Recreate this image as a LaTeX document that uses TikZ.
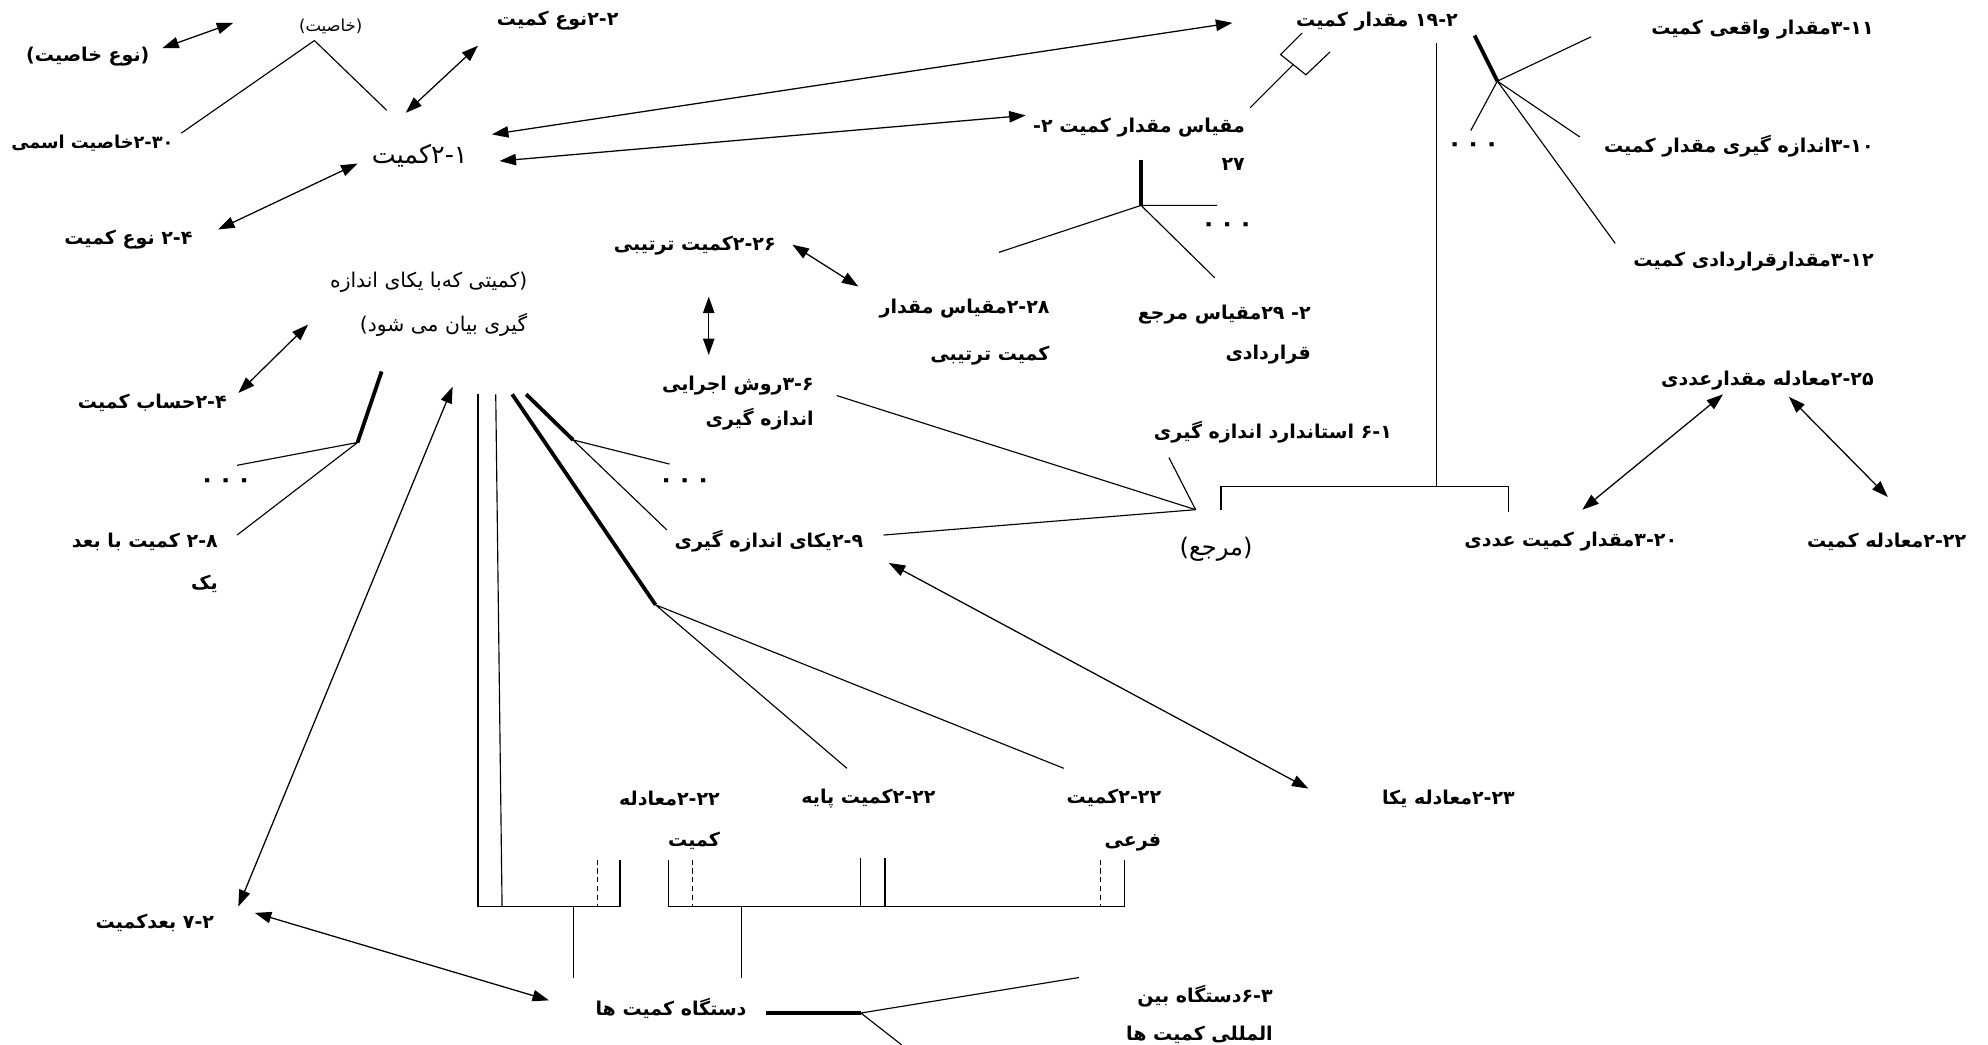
\documentclass[tikz,border=0pt]{standalone}
\usepackage{fontspec}
\usetikzlibrary{arrows.meta}
\usetikzlibrary{positioning}

\TeXXeTstate=1
\newfontfamily\fafont[Script=Arabic]{DejaVu Sans}
\newcommand{\rl}[1]{\beginR#1\endR}

\tikzset{
  lbl/.style={font=\fafont\bfseries\fontsize{15}{#1}\selectfont, anchor=east, align=right, inner sep=0pt},
  lbl/.default=18,
  reg/.style={font=\fafont\fontsize{16}{#1}\selectfont, anchor=east, align=right, inner sep=0pt},
  reg/.default=18,
  dts/.style={font=\fafont\bfseries\fontsize{19}{20}\selectfont, inner sep=0pt},
  ln/.style={line width=0.9pt},
  thk/.style={line width=3pt},
  dsh/.style={line width=0.9pt, dash pattern=on 4pt off 3pt},
  dbl/.style={line width=1pt, {Triangle[length=13pt,width=9pt]}-{Triangle[length=13pt,width=9pt]}},
}

\begin{document}
\begin{tikzpicture}[x=1pt,y=-1pt]
\useasboundingbox (0,0) rectangle (1568,824);

% labels
\node[lbl] (n_kh) at (118,45) {\rl{(نوع خاصیت)}};
\node[reg, font=\fafont\fontsize{13}{14}\selectfont] (kh) at (286,21) {\rl{(خاصیت)}};
\node[lbl] (nk_2) at (488,16) {\rl{۲-۲نوع کمیت}};
\node[lbl, font=\fafont\bfseries\fontsize{14}{18}\selectfont] (kh_30) at (137,113) {\rl{۲-۳۰خاصیت اسمی}};
\node[reg, font=\fafont\fontsize{20}{22}\selectfont] (k_1) at (369,123) {\rl{۲-۱کمیت}};
\node[lbl] (nk_4) at (152,189) {\rl{۲-۴ نوع کمیت}};
\node[reg=35] (kyb) at (416,240) {\rl{(کمیتی که‌با یکای اندازه}\\ \rl{گیری بیان می شود)}};
\node[lbl] (hs_4) at (179,318) {\rl{۲-۴حساب کمیت}};
\node[lbl=33] (bd_8) at (172,444) {\rl{۲-۸ کمیت با بعد}\\ \rl{یک}};
\node[lbl] (bd_7) at (169,728) {\rl{۷-۲ بعدکمیت}};
\node[lbl] (tr_26) at (612,194) {\rl{۲-۲۶کمیت ترتیبی}};
\node[lbl=28] (rv_6) at (642,318) {\rl{۳-۶روش اجرایی}\\ \rl{اندازه گیری}};
\node[lbl] (yk_9) at (681,427) {\rl{۲-۹یکای اندازه گیری}};
\node[lbl=37] (mm_28) at (828,262) {\rl{۲-۲۸مقیاس مقدار}\\ \rl{کمیت ترتیبی}};
\node[lbl=31] (mr_29) at (1034,264) {\rl{۲- ۲۹مقیاس مرجع}\\ \rl{قراردادی}};
\node[lbl=30] (mk_27) at (982,114) {\rl{مقیاس مقدار کمیت ۲-}\\ \rl{۲۷}};
\node[lbl] (mq_19) at (1150,17) {\rl{۱۹-۲ مقدار کمیت}};
\node[lbl] (vq_11) at (1478,23) {\rl{۳-۱۱مقدار واقعی کمیت}};
\node[lbl] (mq_10) at (1478,115) {\rl{۳-۱۰اندازه گیری مقدار کمیت}};
\node[lbl] (qr_12) at (1478,206) {\rl{۳-۱۲مقدارقراردادی کمیت}};
\node[lbl] (ma_25) at (1478,300) {\rl{۲-۲۵معادله مقدارعددی}};
\node[lbl] (st_1) at (1098,341) {\rl{۶-۱ استاندارد اندازه گیری}};
\node[reg, font=\fafont\fontsize{19}{20}\selectfont] (mrj) at (988,433) {\rl{(مرجع)}};
\node[lbl] (ad_20) at (1323,427) {\rl{۳-۲۰مقدار کمیت عددی}};
\node[lbl] (mk_22) at (1551,427) {\rl{۲-۲۲معادله کمیت}};
\node[lbl] (my_23) at (1195,630) {\rl{۲-۲۳معادله یکا}};
\node[lbl=33] (mo_22) at (568,647) {\rl{۲-۲۲معادله}\\ \rl{کمیت}};
\node[lbl] (kp_22) at (738,630) {\rl{۲-۲۲کمیت پایه}};
\node[lbl=34] (kf_22) at (916,647) {\rl{۲-۲۲کمیت}\\ \rl{فرعی}};
\node[lbl] (dk) at (589,795) {\rl{دستگاه کمیت ها}};
\node[lbl=30] (isq) at (1004,800) {\rl{۶-۳دستگاه بین}\\ \rl{المللی کمیت ها}};

\node[dts] (dots_1) at (178,381) {۰\hspace{3pt}۰\hspace{3pt}۰};
\node[dts] (dots_2) at (540,381) {۰\hspace{3pt}۰\hspace{3pt}۰};
\node[dts] (dots_3) at (968,179) {۰\hspace{3pt}۰\hspace{3pt}۰};
\node[dts] (dots_4) at (1162,116) {۰\hspace{3pt}۰\hspace{3pt}۰};

% arrow ends
\coordinate (a1_s) at (128,38);  \coordinate (a1_e) at (184,18);
\coordinate (a2_s) at (320,89);  \coordinate (a2_e) at (377,36);
\coordinate (a3_s) at (388,106); \coordinate (a3_e) at (972,18);
\coordinate (a4_s) at (394,127); \coordinate (a4_e) at (809,91);
\coordinate (a5_s) at (172,181); \coordinate (a5_e) at (282,129);
\coordinate (a6_s) at (188,310); \coordinate (a6_e) at (243,256);
\coordinate (a7_s) at (188,715); \coordinate (a7_e) at (357,305);
\coordinate (a8_s) at (201,720); \coordinate (a8_e) at (433,789);
\coordinate (a9_s) at (625,193); \coordinate (a9_e) at (677,226);
\coordinate (a10_s) at (559,234); \coordinate (a10_e) at (559,280);
\coordinate (a11_s) at (701,444); \coordinate (a11_e) at (1032,622);
\coordinate (a12_s) at (1248,402); \coordinate (a12_e) at (1359,311);
\coordinate (a13_s) at (1411,313); \coordinate (a13_e) at (1489,392);

\path[dbl]
    (a1_s) edge (a1_e)
    (a2_s) edge (a2_e)
    (a3_s) edge (a3_e)
    (a4_s) edge (a4_e)
    (a5_s) edge (a5_e)
    (a6_s) edge (a6_e)
    (a7_s) edge (a7_e)
    (a8_s) edge (a8_e)
    (a9_s) edge (a9_e)
    (a10_s) edge (a10_e)
    (a11_s) edge (a11_e)
    (a12_s) edge (a12_e)
    (a13_s) edge (a13_e);

% caret under (khasiat)
\coordinate (c_l) at (143,105); \coordinate (c_t) at (248,32); \coordinate (c_r) at (305,87);
\draw[ln] (c_l) -- (c_t) -- (c_r);

% fork left
\coordinate (f1_t) at (301,293); \coordinate (f1_j) at (282,349);
\coordinate (f1_a) at (187,367); \coordinate (f1_b) at (187,422);
\draw[thk] (f1_t) -- (f1_j);
\draw[ln] (f1_a) -- (f1_j) -- (f1_b);

% bundle
\coordinate (v1_t) at (377,311); \coordinate (v1_b) at (377,715);
\coordinate (v2_t) at (391,311); \coordinate (v2_b) at (396,715);
\coordinate (b1_r) at (489,715); \coordinate (b1_rt) at (489,678);
\coordinate (b1_dt) at (471,678); \coordinate (b1_db) at (471,715);
\coordinate (d1_t) at (452,715); \coordinate (d1_b) at (452,771);
\draw[ln] (v1_t) -- (v1_b) -- (b1_r) -- (b1_rt);
\draw[ln] (v2_t) -- (v2_b);
\draw[dsh] (b1_dt) -- (b1_db);
\draw[ln] (d1_t) -- (d1_b);

\coordinate (t1_t) at (404,311); \coordinate (t1_j) at (517,477);
\coordinate (t2_t) at (415,311); \coordinate (t2_j) at (452,347);
\draw[thk] (t1_t) -- (t1_j);
\draw[thk] (t2_t) -- (t2_j);
\coordinate (t2_a) at (528,366); \coordinate (t2_b) at (526,418);
\draw[ln] (t2_a) -- (t2_j) -- (t2_b);
\coordinate (t1_a) at (668,606); \coordinate (t1_b) at (839,606);
\draw[ln] (t1_a) -- (t1_j) -- (t1_b);

% second bracket
\coordinate (b2_lt) at (527,678); \coordinate (b2_lb) at (527,715);
\coordinate (b2_rb) at (887,715); \coordinate (b2_rt) at (887,678);
\draw[ln] (b2_lt) -- (b2_lb) -- (b2_rb) -- (b2_rt);
\draw[dsh] (546,678) -- (546,715);
\draw[dsh] (868,678) -- (868,715);
\draw[ln] (679,677) -- (679,715);
\draw[ln] (698,677) -- (698,715);
\coordinate (d2_t) at (585,715); \coordinate (d2_b) at (585,771);
\draw[ln] (d2_t) -- (d2_b);

% international system
\coordinate (i_l) at (604,799); \coordinate (i_j) at (679,799);
\coordinate (i_a) at (851,771); \coordinate (i_b) at (711,824);
\draw[thk] (i_l) -- (i_j);
\draw[ln] (i_a) -- (i_j) -- (i_b);

% fork scale
\coordinate (f2_t) at (900,126); \coordinate (f2_j) at (900,162);
\coordinate (f2_a) at (788,199); \coordinate (f2_b) at (960,162); \coordinate (f2_c) at (958,219);
\draw[thk] (f2_t) -- (f2_j);
\draw[ln] (f2_a) -- (f2_j) -- (f2_b);
\draw[ln] (f2_j) -- (f2_c);

% bracket mark near quantity value
\coordinate (s_b) at (986,85); \coordinate (s_t) at (1020,51);
\draw[ln] (s_b) -- (s_t);
\draw[ln] (1027,26) -- (1010,43) -- (1030,59) -- (1049,41);

% quantity value trunk
\coordinate (q_t) at (1133,34); \coordinate (q_b) at (1133,384);
\coordinate (q_l) at (963,384); \coordinate (q_r) at (1190,384);
\draw[ln] (q_t) -- (q_b);
\draw[ln] (963,402) -- (q_l) -- (q_r) -- (1190,404);

% fork right
\coordinate (f3_t) at (1163,28); \coordinate (f3_j) at (1181,64);
\draw[thk] (f3_t) -- (f3_j);
\path[ln]
    (f3_j) edge (1255,29)
    (f3_j) edge (1246,108)
    (f3_j) edge (1274,192)
    (f3_j) edge (1160,103);

% reference lines
\coordinate (r_j) at (943,402);
\path[ln]
    (660,312) edge (r_j)
    (697,422) edge (r_j)
    (922,361) edge (r_j);

\end{tikzpicture}
\end{document}
